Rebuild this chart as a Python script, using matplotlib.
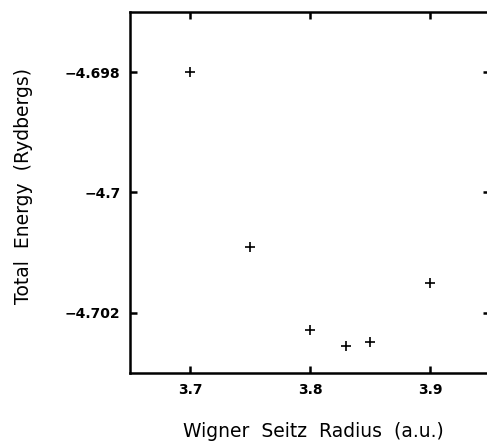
import matplotlib
matplotlib.use("Agg")
import matplotlib.pyplot as plt

# Wigner-Seitz radius vs total energy
radius = [3.7, 3.75, 3.8, 3.83, 3.85, 3.9]
energy = [-4.6980, -4.70090, -4.70229, -4.70255, -4.70249, -4.70150]

xticks = [3.7, 3.8, 3.9]
xtick_labels = ["3.7", "3.8", "3.9"]
yticks = [-4.698, -4.700, -4.702]
ytick_labels = ["\u22124.698", "\u22124.7", "\u22124.702"]

plt.rcParams['font.family'] = ['DejaVu Sans']

fig = plt.figure(figsize=(4.87, 4.43), dpi=100)
ax = fig.add_axes([0.267, 0.158, 0.739, 0.815])

ax.plot(radius, energy, linestyle='none', marker='+', color='black',
        markersize=7.5, markeredgewidth=1.2)

ax.set_xlim(3.65, 3.95)
ax.set_ylim(-4.703, -4.697)
ax.set_xticks(xticks)
ax.set_xticklabels(xtick_labels, fontweight='bold')
ax.set_yticks(yticks)
ax.set_yticklabels(ytick_labels, fontweight='bold')

ax.tick_params(direction='in', length=5, width=1.8, top=True, right=True,
               labelsize=10, pad=7)
for s in ax.spines.values():
    s.set_linewidth(1.8)

ax.set_xlabel('Wigner  Seitz  Radius  (a.u.)', fontsize=13.5)
ax.set_ylabel('Total  Energy  (Rydbergs)', fontsize=13.5)
ax.xaxis.set_label_coords(0.51, -0.137)
ax.yaxis.set_label_coords(-0.27, 0.518)

fig.savefig('out.png', dpi=100)
